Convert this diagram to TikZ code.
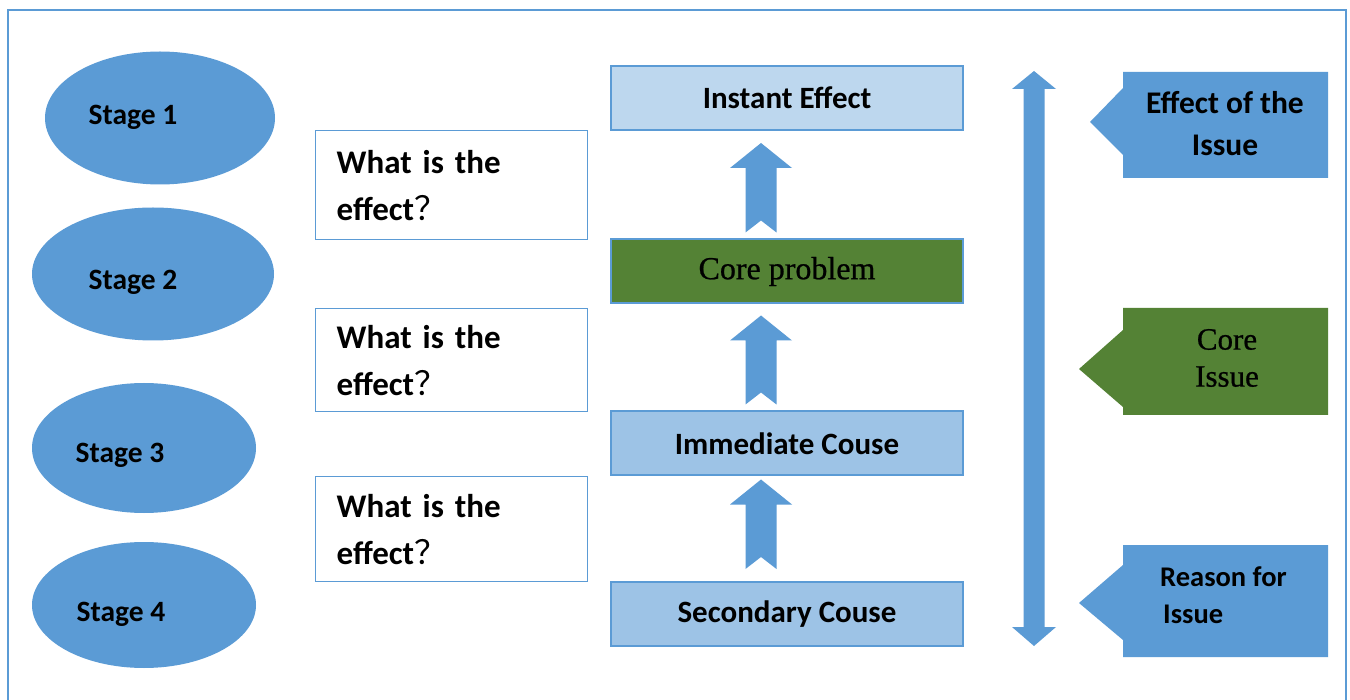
\documentclass[tikz,border=0pt]{standalone}
\usepackage{fontspec}
\setmainfont{Carlito}
\newfontfamily\serifx[BoldFont=Liberation Serif, BoldFeatures={FakeBold=0.7}]{Liberation Serif}
\newfontfamily\cjk{Noto Sans CJK SC}
\usetikzlibrary{calc,shapes.geometric}
\definecolor{blu}{HTML}{5B9BD5}
\definecolor{lblu}{HTML}{BDD7EE}
\definecolor{mblu}{HTML}{9DC3E6}
\definecolor{grn}{HTML}{548235}
\tikzset{
  stageell/.style={ellipse, fill=blu, inner sep=0pt},
  stagetxt/.style={font=\fontsize{29.5}{34}\selectfont\bfseries, inner sep=0pt},
  qbox/.style={draw=blu, line width=1.3pt, fill=white, anchor=north west, minimum width=272pt,
    text width=230pt, inner xsep=21pt, align=left, font=\fontsize{33}{47}\selectfont\bfseries},
  cbox/.style={draw=blu, line width=2pt, minimum width=352pt, minimum height=64pt,
    font=\fontsize{31}{36}\selectfont\bfseries},
  tagtxt/.style={inner sep=0pt, align=center}
}
\newcommand\upblock[2]{%
  \fill[blu] let \p1=(#1), \p2=(#2) in
    (\x1,\y1) -- (\x1+31pt,\y1-25pt) -- (\x1+15.5pt,\y1-25pt) -- (\x1+15.5pt,\y2)
    -- (\x1,\y2+12pt) -- (\x1-15.5pt,\y2) -- (\x1-15.5pt,\y1-25pt) -- (\x1-31pt,\y1-25pt) -- cycle;}
\begin{document}
\begin{tikzpicture}[x=1pt,y=-1pt]
\useasboundingbox (0,0) rectangle (1350,700);
\fill[white] (0,0) rectangle (1350,700);
\draw[blu, line width=2pt] (8,10) rectangle (1346,720);

% stages
\node[stageell, minimum width=230pt, minimum height=133pt] (s1) at (160,118) {};
\node[stageell, minimum width=242pt, minimum height=133pt] (s2) at (153,274) {};
\node[stageell, minimum width=224pt, minimum height=130pt] (s3) at (144,448) {};
\node[stageell, minimum width=224pt, minimum height=126pt] (s4) at (144,605) {};
\node[stagetxt] (s1t) at (133,117) {Stage 1};
\node[stagetxt] (s2t) at (133,282) {Stage 2};
\node[stagetxt] (s3t) at (120,455) {Stage 3};
\node[stagetxt] (s4t) at (121,614) {Stage 4};

% question boxes
\node[qbox, minimum height=109pt] (q1) at (315,130) {What is the\\effect{\mdseries\cjk ？}};
\node[qbox, minimum height=103pt] (q2) at (315,308) {What is the\\effect{\mdseries\cjk ？}};
\node[qbox, minimum height=105pt] (q3) at (315,476) {What is the\\effect{\mdseries\cjk ？}};

% central boxes
\node[cbox, fill=lblu] (ie) at (787,98) {Instant Effect};
\node[cbox, fill=grn, font=\fontsize{32}{38}\selectfont\serifx\bfseries] (cp) at (787,271.5) {Core problem};
\node[cbox, fill=mblu] (ic) at (787,443.5) {Immediate Couse};
\node[cbox, fill=mblu] (sc) at (787,614) {Secondary Couse};

% block arrows
\upblock{$(ie.south)+(-26,12)$}{$(cp.north)+(-26,-6)$}
\upblock{$(cp.south)+(-26,11)$}{$(ic.north)+(-26,-6)$}
\upblock{$(ic.south)+(-26,3)$}{$(sc.north)+(-26,-12)$}

% vertical double arrow
\coordinate (vt) at (1034,71);
\coordinate (vb) at (1034,646);
\fill[blu] (vt) -- ++(22,18) -- ++(-11.5,0) -- ($(vb)+(10.5,-19)$) -- ++(11.5,0) -- (vb)
  -- ++(-22,-19) -- ++(11.5,0) -- ($(vt)+(-10.5,18)$) -- ++(-11.5,0) -- cycle;

% tags
\fill[blu] (1123,72) -- (1328,72) -- (1328,178) -- (1123,178) -- (1123,155) -- (1090,122) -- (1123,88) -- cycle;
\node[tagtxt, font=\fontsize{31.5}{42}\selectfont\bfseries] (t1) at (1225,124) {Effect of the\\Issue};
\fill[grn] (1123,308) -- (1328,308) -- (1328,415) -- (1123,415) -- (1123,407) -- (1079,369) -- (1123,330) -- cycle;
\node[tagtxt, font=\fontsize{31}{37}\selectfont\serifx\bfseries] (t2) at (1227,358) {Core\\Issue};
\fill[blu] (1123,545) -- (1328,545) -- (1328,657) -- (1123,657) -- (1123,640) -- (1079,603) -- (1123,565) -- cycle;
\node[tagtxt, align=left, anchor=west, font=\fontsize{28.5}{37}\selectfont\bfseries] (t3) at (1160,595) {Reason for\\\hspace*{3pt}Issue};
\end{tikzpicture}
\end{document}
